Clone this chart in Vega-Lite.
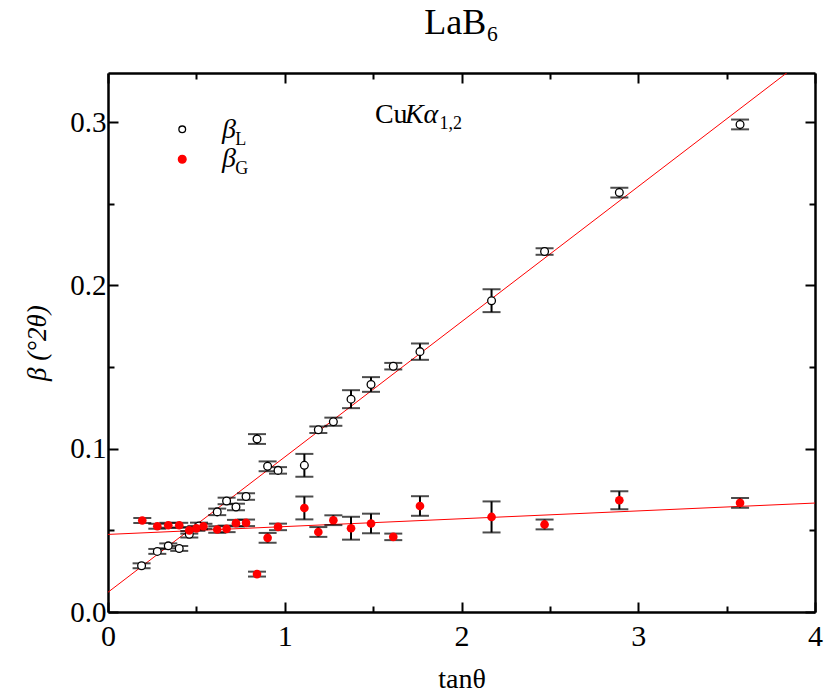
{
  "$schema": "https://vega.github.io/schema/vega-lite/v6.json",
  "width": 707,
  "height": 539,
  "autosize": {"type": "none"},
  "padding": {"left": 108, "top": 73, "right": 12, "bottom": 82},
  "background": "white",
  "title": {"text": "LaB₆", "font": "Liberation Serif", "fontSize": 36, "fontWeight": "normal", "color": "black", "anchor": "middle", "offset": 30},
  "config": {
    "view": {"stroke": null},
    "font": "Liberation Serif"
  },
  "datasets": {
    "pts": [
      {"s": "L", "x": 0.19, "y": 0.0283, "lo": 0.0268, "hi": 0.0298},
      {"s": "L", "x": 0.279, "y": 0.0371, "lo": 0.0356, "hi": 0.0386},
      {"s": "L", "x": 0.341, "y": 0.0405, "lo": 0.039, "hi": 0.042},
      {"s": "L", "x": 0.403, "y": 0.0389, "lo": 0.0374, "hi": 0.0404},
      {"s": "L", "x": 0.46, "y": 0.0476, "lo": 0.0456, "hi": 0.0496},
      {"s": "L", "x": 0.515, "y": 0.0527, "lo": 0.0507, "hi": 0.0547},
      {"s": "L", "x": 0.618, "y": 0.0613, "lo": 0.0593, "hi": 0.0633},
      {"s": "L", "x": 0.671, "y": 0.068, "lo": 0.066, "hi": 0.07},
      {"s": "L", "x": 0.724, "y": 0.0643, "lo": 0.0623, "hi": 0.0663},
      {"s": "L", "x": 0.781, "y": 0.0707, "lo": 0.0687, "hi": 0.0727},
      {"s": "L", "x": 0.843, "y": 0.1059, "lo": 0.1029, "hi": 0.1089},
      {"s": "L", "x": 0.903, "y": 0.0892, "lo": 0.0862, "hi": 0.0922},
      {"s": "L", "x": 0.962, "y": 0.0867, "lo": 0.0847, "hi": 0.0887},
      {"s": "L", "x": 1.111, "y": 0.0898, "lo": 0.0828, "hi": 0.0968},
      {"s": "L", "x": 1.19, "y": 0.1116, "lo": 0.1096, "hi": 0.1136},
      {"s": "L", "x": 1.275, "y": 0.1165, "lo": 0.114, "hi": 0.119},
      {"s": "L", "x": 1.375, "y": 0.1303, "lo": 0.1248, "hi": 0.1358},
      {"s": "L", "x": 1.488, "y": 0.1393, "lo": 0.1348, "hi": 0.1438},
      {"s": "L", "x": 1.614, "y": 0.1505, "lo": 0.1485, "hi": 0.1525},
      {"s": "L", "x": 1.765, "y": 0.1594, "lo": 0.1544, "hi": 0.1644},
      {"s": "L", "x": 2.17, "y": 0.1906, "lo": 0.1836, "hi": 0.1976},
      {"s": "L", "x": 2.47, "y": 0.2207, "lo": 0.2187, "hi": 0.2227},
      {"s": "L", "x": 2.893, "y": 0.2568, "lo": 0.2538, "hi": 0.2598},
      {"s": "L", "x": 3.576, "y": 0.2985, "lo": 0.2955, "hi": 0.3015},
      {"s": "G", "x": 0.194, "y": 0.056, "lo": 0.0545, "hi": 0.0575},
      {"s": "G", "x": 0.279, "y": 0.0525, "lo": 0.051, "hi": 0.054},
      {"s": "G", "x": 0.341, "y": 0.0531, "lo": 0.0516, "hi": 0.0546},
      {"s": "G", "x": 0.403, "y": 0.0531, "lo": 0.0516, "hi": 0.0546},
      {"s": "G", "x": 0.46, "y": 0.05, "lo": 0.048, "hi": 0.052},
      {"s": "G", "x": 0.5, "y": 0.0512, "lo": 0.0497, "hi": 0.0527},
      {"s": "G", "x": 0.54, "y": 0.0525, "lo": 0.051, "hi": 0.054},
      {"s": "G", "x": 0.618, "y": 0.0505, "lo": 0.0485, "hi": 0.0525},
      {"s": "G", "x": 0.671, "y": 0.0509, "lo": 0.0489, "hi": 0.0529},
      {"s": "G", "x": 0.724, "y": 0.0544, "lo": 0.0524, "hi": 0.0564},
      {"s": "G", "x": 0.781, "y": 0.0546, "lo": 0.0526, "hi": 0.0566},
      {"s": "G", "x": 0.843, "y": 0.0232, "lo": 0.0217, "hi": 0.0247},
      {"s": "G", "x": 0.903, "y": 0.0454, "lo": 0.0424, "hi": 0.0484},
      {"s": "G", "x": 0.962, "y": 0.0521, "lo": 0.0501, "hi": 0.0541},
      {"s": "G", "x": 1.111, "y": 0.0637, "lo": 0.0567, "hi": 0.0707},
      {"s": "G", "x": 1.19, "y": 0.049, "lo": 0.046, "hi": 0.052},
      {"s": "G", "x": 1.275, "y": 0.0562, "lo": 0.0532, "hi": 0.0592},
      {"s": "G", "x": 1.375, "y": 0.0513, "lo": 0.0443, "hi": 0.0583},
      {"s": "G", "x": 1.488, "y": 0.0542, "lo": 0.0482, "hi": 0.0602},
      {"s": "G", "x": 1.614, "y": 0.046, "lo": 0.044, "hi": 0.048},
      {"s": "G", "x": 1.765, "y": 0.0649, "lo": 0.0589, "hi": 0.0709},
      {"s": "G", "x": 2.17, "y": 0.0582, "lo": 0.0487, "hi": 0.0677},
      {"s": "G", "x": 2.47, "y": 0.0536, "lo": 0.0506, "hi": 0.0566},
      {"s": "G", "x": 2.893, "y": 0.0684, "lo": 0.0629, "hi": 0.0739},
      {"s": "G", "x": 3.576, "y": 0.0668, "lo": 0.0638, "hi": 0.0698}
    ],
    "fits": [
      {"s": "L", "x": 0, "y": 0.0121},
      {"s": "L", "x": 4, "y": 0.3433},
      {"s": "G", "x": 0, "y": 0.0475},
      {"s": "G", "x": 4, "y": 0.0667}
    ],
    "legsym": [
      {"s": "L", "x": 0.42, "y": 0.2955},
      {"s": "G", "x": 0.42, "y": 0.2772}
    ],
    "labsUp": [
      {"x": 1.51, "y": 0.2993, "t": "Cu"}
    ],
    "labsItal": [
      {"x": 0.645, "y": 0.2905, "t": "β"},
      {"x": 0.645, "y": 0.2722, "t": "β"},
      {"x": 1.68, "y": 0.2993, "t": "Kα"}
    ],
    "subs": [
      {"x": 0.72, "y": 0.2862, "t": "L"},
      {"x": 0.72, "y": 0.2679, "t": "G"},
      {"x": 1.875, "y": 0.2955, "t": "1,2"}
    ]
  },
  "resolve": {"axis": {"x": "independent", "y": "independent"}},
  "layer": [
    {
      "data": {"name": "fits"},
      "mark": {"type": "line", "color": "#ff0000", "strokeWidth": 1, "clip": true},
      "encoding": {
        "x": {"field": "x", "type": "quantitative", "scale": {"domain": [0, 4], "nice": false}, "axis": {
          "orient": "bottom", "values": [0, 0.5, 1, 1.5, 2, 2.5, 3, 3.5, 4],
          "labelExpr": "datum.value % 1 === 0 ? format(datum.value, 'd') : ''",
          "title": "tanθ", "titleFont": "Liberation Serif", "titleFontSize": 28, "titleFontWeight": "normal", "titleColor": "black", "titlePadding": 14,
          "labelFont": "Liberation Serif", "labelFontSize": 30, "labelColor": "black", "labelPadding": 19,
          "domainColor": "black", "domainWidth": 2.5, "tickColor": "black", "tickWidth": 2,
          "tickSize": {"condition": {"test": "datum.value % 1 === 0", "value": -10}, "value": -6},
          "labelFlush": false, "grid": false
        }},
        "y": {"field": "y", "type": "quantitative", "scale": {"domain": [0, 0.33], "nice": false}, "axis": {
          "orient": "left", "values": [0, 0.05, 0.1, 0.15, 0.2, 0.25, 0.3],
          "labelExpr": "abs(datum.value*10 - round(datum.value*10)) < 0.000001 ? format(datum.value, '.1f') : ''",
          "title": "β (°2θ)", "titleFont": "Liberation Serif", "titleFontSize": 27, "titleFontWeight": "normal", "titleFontStyle": "italic", "titleColor": "black", "titlePadding": 18,
          "labelFont": "Liberation Serif", "labelFontSize": 29, "labelColor": "black", "labelPadding": 12,
          "domainColor": "black", "domainWidth": 2.5, "tickColor": "black", "tickWidth": 2,
          "tickSize": {"condition": {"test": "abs(datum.value*10 - round(datum.value*10)) < 0.000001", "value": -10}, "value": -6},
          "labelFlush": false, "grid": false
        }},
        "detail": {"field": "s"}
      }
    },
    {
      "data": {"name": "pts"},
      "mark": {"type": "rule", "color": "black", "strokeWidth": 2},
      "encoding": {
        "x": {"field": "x", "type": "quantitative", "axis": {
          "orient": "top", "values": [0, 0.5, 1, 1.5, 2, 2.5, 3, 3.5, 4], "labels": false, "title": null,
          "domainColor": "black", "domainWidth": 2.5, "tickColor": "black", "tickWidth": 2,
          "tickSize": {"condition": {"test": "datum.value % 1 === 0", "value": -10}, "value": -6}, "grid": false
        }},
        "y": {"field": "lo", "type": "quantitative", "axis": {
          "orient": "right", "values": [0, 0.05, 0.1, 0.15, 0.2, 0.25, 0.3], "labels": false, "title": null,
          "domainColor": "black", "domainWidth": 2.5, "tickColor": "black", "tickWidth": 2,
          "tickSize": {"condition": {"test": "abs(datum.value*10 - round(datum.value*10)) < 0.000001", "value": -10}, "value": -6}, "grid": false
        }},
        "y2": {"field": "hi"}
      }
    },
    {
      "data": {"name": "pts"},
      "mark": {"type": "tick", "orient": "horizontal", "color": "black", "size": 18, "thickness": 2},
      "encoding": {
        "x": {"field": "x", "type": "quantitative", "axis": null},
        "y": {"field": "lo", "type": "quantitative", "axis": null}
      }
    },
    {
      "data": {"name": "pts"},
      "mark": {"type": "tick", "orient": "horizontal", "color": "black", "size": 18, "thickness": 2},
      "encoding": {
        "x": {"field": "x", "type": "quantitative", "axis": null},
        "y": {"field": "hi", "type": "quantitative", "axis": null}
      }
    },
    {
      "data": {"name": "pts"},
      "transform": [{"filter": "datum.s === 'L'"}],
      "mark": {"type": "point", "shape": "circle", "filled": false, "fill": "white", "stroke": "black", "strokeWidth": 1.3, "size": 60, "opacity": 1},
      "encoding": {
        "x": {"field": "x", "type": "quantitative", "axis": null},
        "y": {"field": "y", "type": "quantitative", "axis": null}
      }
    },
    {
      "data": {"name": "pts"},
      "transform": [{"filter": "datum.s === 'G'"}],
      "mark": {"type": "point", "shape": "circle", "filled": true, "color": "#ff0000", "size": 75, "opacity": 1},
      "encoding": {
        "x": {"field": "x", "type": "quantitative", "axis": null},
        "y": {"field": "y", "type": "quantitative", "axis": null}
      }
    },
    {
      "data": {"name": "legsym"},
      "mark": {"type": "point", "shape": "circle", "strokeWidth": 1.3, "opacity": 1},
      "encoding": {
        "x": {"field": "x", "type": "quantitative", "axis": null},
        "y": {"field": "y", "type": "quantitative", "axis": null},
        "fill": {"field": "s", "type": "nominal", "scale": {"domain": ["L", "G"], "range": ["white", "#ff0000"]}, "legend": null},
        "stroke": {"field": "s", "type": "nominal", "scale": {"domain": ["L", "G"], "range": ["black", "#ff0000"]}, "legend": null},
        "size": {"field": "s", "type": "nominal", "scale": {"domain": ["L", "G"], "range": [45, 60]}, "legend": null}
      }
    },
    {
      "data": {"name": "labsUp"},
      "mark": {"type": "text", "font": "Liberation Serif", "fontSize": 28, "color": "black", "align": "left", "baseline": "alphabetic"},
      "encoding": {
        "x": {"field": "x", "type": "quantitative", "axis": null},
        "y": {"field": "y", "type": "quantitative", "axis": null},
        "text": {"field": "t"}
      }
    },
    {
      "data": {"name": "labsItal"},
      "mark": {"type": "text", "font": "Liberation Serif", "fontSize": 28, "fontStyle": "italic", "color": "black", "align": "left", "baseline": "alphabetic"},
      "encoding": {
        "x": {"field": "x", "type": "quantitative", "axis": null},
        "y": {"field": "y", "type": "quantitative", "axis": null},
        "text": {"field": "t"}
      }
    },
    {
      "data": {"name": "subs"},
      "mark": {"type": "text", "font": "Liberation Serif", "fontSize": 18, "color": "black", "align": "left", "baseline": "alphabetic"},
      "encoding": {
        "x": {"field": "x", "type": "quantitative", "axis": null},
        "y": {"field": "y", "type": "quantitative", "axis": null},
        "text": {"field": "t"}
      }
    }
  ]
}
